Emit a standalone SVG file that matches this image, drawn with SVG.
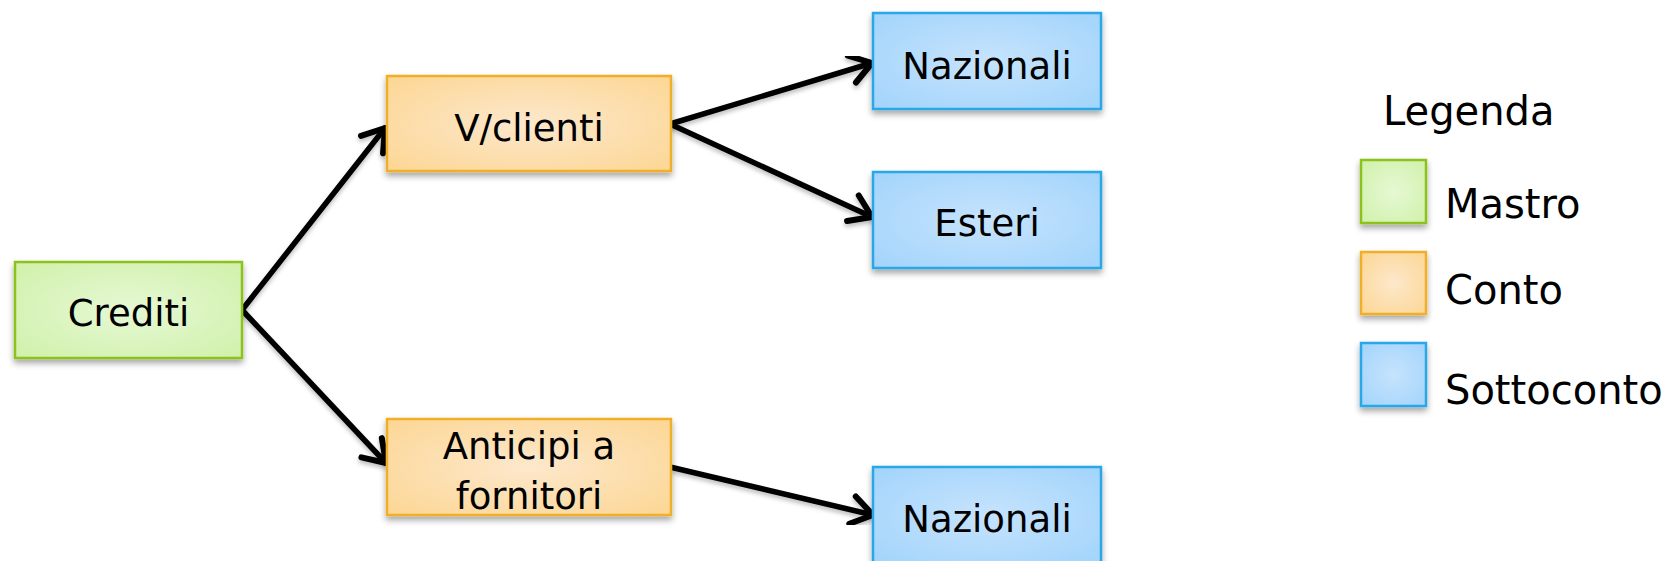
<svg xmlns="http://www.w3.org/2000/svg" width="1678" height="561" viewBox="0 0 1678 561">
<style>
  .lbl { font-family: "DejaVu Sans", "Liberation Sans", sans-serif; font-size: 37px; fill: #000; text-anchor: middle; }
  .leg { font-family: "DejaVu Sans", "Liberation Sans", sans-serif; font-size: 40px; fill: #000; }
  .green { fill: url(#gGreen); stroke: #8cc21c; stroke-width: 2.5; filter: url(#shadow); }
  .orange { fill: url(#gOrange); stroke: #efaf2a; stroke-width: 2.5; filter: url(#shadow); }
  .blue { fill: url(#gBlue); stroke: #2aa7e6; stroke-width: 2.5; filter: url(#shadow); }
  .conn { stroke: #000; stroke-width: 5.5; fill: none; stroke-linecap: round; stroke-linejoin: round; marker-end: url(#arrow); filter: url(#lshadow); }
</style>
<defs>
  <radialGradient id="gGreen" cx="50%" cy="50%" r="70%">
    <stop offset="0" stop-color="#e6f8d4"/>
    <stop offset="1" stop-color="#d0f1aa"/>
  </radialGradient>
  <radialGradient id="gOrange" cx="50%" cy="50%" r="70%">
    <stop offset="0" stop-color="#fde8cc"/>
    <stop offset="1" stop-color="#fcd693"/>
  </radialGradient>
  <radialGradient id="gBlue" cx="50%" cy="50%" r="70%">
    <stop offset="0" stop-color="#c6e3fd"/>
    <stop offset="1" stop-color="#a2d4fb"/>
  </radialGradient>
  <filter id="shadow" x="-10%" y="-10%" width="120%" height="130%">
    <feDropShadow dx="0" dy="4" stdDeviation="3" flood-color="#000" flood-opacity="0.35"/>
  </filter>
  <filter id="lshadow" x="-10%" y="-10%" width="120%" height="130%">
    <feDropShadow dx="0" dy="3" stdDeviation="2" flood-color="#000" flood-opacity="0.25"/>
  </filter>
  <marker id="arrow" markerUnits="userSpaceOnUse" markerWidth="44" markerHeight="44" viewBox="-27 -22 32 44" refX="0" refY="0" orient="auto">
    <path d="M-21,-14 L0,0 L-21,14" fill="none" stroke="#000" stroke-width="6" stroke-linecap="round" stroke-linejoin="round"/>
  </marker>
</defs>

<g id="connectors">
  <line class="conn" x1="242" y1="310" x2="385" y2="128"/>
  <line class="conn" x1="242" y1="310" x2="386" y2="463"/>
  <line class="conn" x1="670" y1="124" x2="872" y2="63"/>
  <line class="conn" x1="670" y1="124" x2="872" y2="217"/>
  <line class="conn" x1="670" y1="467" x2="873" y2="515"/>
</g>

<g id="crediti">
  <rect class="green" x="15" y="262" width="227" height="96"/>
  <text class="lbl" x="128.5" y="326">Crediti</text>
</g>
<g id="vclienti">
  <rect class="orange" x="387" y="76" width="284" height="95"/>
  <text class="lbl" x="529" y="141">V/clienti</text>
</g>
<g id="anticipi">
  <rect class="orange" x="387" y="419" width="284" height="96"/>
  <text class="lbl" x="529" y="459">Anticipi a</text>
  <text class="lbl" x="529" y="509">fornitori</text>
</g>
<g id="nazionali1">
  <rect class="blue" x="873" y="13" width="228" height="96"/>
  <text class="lbl" x="987" y="79">Nazionali</text>
</g>
<g id="esteri">
  <rect class="blue" x="873" y="172" width="228" height="96"/>
  <text class="lbl" x="987" y="236">Esteri</text>
</g>
<g id="nazionali2">
  <rect class="blue" x="873" y="467" width="228" height="96"/>
  <text class="lbl" x="987" y="532">Nazionali</text>
</g>

<g id="legend">
  <text class="leg" x="1383" y="125">Legenda</text>
  <rect class="green" x="1361" y="160" width="65" height="63"/>
  <text class="leg" x="1445" y="218">Mastro</text>
  <rect class="orange" x="1361" y="252" width="65" height="62"/>
  <text class="leg" x="1445" y="304">Conto</text>
  <rect class="blue" x="1361" y="343" width="65" height="63"/>
  <text class="leg" x="1445" y="404">Sottoconto</text>
</g>
</svg>
